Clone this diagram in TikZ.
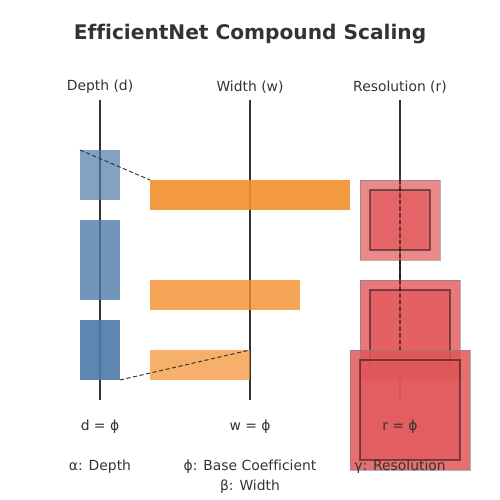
\documentclass[tikz,border=0pt]{standalone}
\usepackage{fontspec}
\setmainfont[Ligatures=NoCommon]{DejaVu Sans}
\definecolor{txt}{HTML}{333333}
\definecolor{tblue}{HTML}{4E79A7}
\definecolor{torange}{HTML}{F28E2B}
\definecolor{tred}{HTML}{E15759}
\tikzset{
  box/.style={inner sep=0pt, outer sep=0pt, anchor=north west},
  dbox/.style={box, fill=tblue, minimum width=28.8pt},
  wbar/.style={box, fill=torange, minimum height=21.6pt},
  rout/.style={box, fill=tred, draw=gray, draw opacity=0.6, line width=0.6pt},
  rin/.style={box, fill=tred, fill opacity=0.7, draw=black, draw opacity=0.45, line width=1.1pt},
  axis/.style={draw=txt, line width=1.5pt},
  link/.style={draw=txt, line width=0.7pt, dash pattern=on 3pt off 1.8pt},
  rlink/.style={draw=black, draw opacity=0.45, line width=1.1pt, dash pattern=on 3pt off 1.8pt},
  lbl/.style={text=txt, font=\fontsize{10}{12}\selectfont, inner sep=0pt},
  ttl/.style={text=txt, font=\fontsize{14.5}{17}\selectfont\bfseries, inner sep=0pt}
}
\begin{document}
\begin{tikzpicture}[x=0.72pt, y=-0.72pt]
\useasboundingbox (0,0) rectangle (500,500);
% title and axis labels
\node[ttl] (title) at (250,34) {EfficientNet Compound Scaling};
\node[lbl] (ld) at (100,87) {Depth (d)};
\node[lbl] (lw) at (250,87) {Width (w)};
\node[lbl] (lr) at (400,87) {Resolution (r)};
% axes
\coordinate (dtop) at (100,100); \coordinate (dbot) at (100,400);
\coordinate (wtop) at (250,100); \coordinate (wbot) at (250,400);
\coordinate (rtop) at (400,100); \coordinate (rbot) at (400,400);
\draw[axis] (dtop) -- (dbot);
\draw[axis] (wtop) -- (wbot);
\draw[axis] (rtop) -- (rbot);
% depth boxes
\node[dbox, fill opacity=0.7, minimum height=36pt] (d1) at (80,150) {};
\node[dbox, fill opacity=0.8, minimum height=57.6pt] (d2) at (80,220) {};
\node[dbox, fill opacity=0.9, minimum height=43.2pt] (d3) at (80,320) {};
% width bars
\node[wbar, fill opacity=0.9, minimum width=144pt] (w1) at (150,180) {};
\node[wbar, fill opacity=0.8, minimum width=108pt] (w2) at (150,280) {};
\node[wbar, fill opacity=0.7, minimum width=72pt] (w3) at (150,350) {};
% resolution squares
\node[rout, fill opacity=0.7, minimum width=57.6pt, minimum height=57.6pt] (r1) at (360,180) {};
\node[rin, minimum width=43.2pt, minimum height=43.2pt] (r1i) at (370,190) {};
\node[rout, fill opacity=0.8, minimum width=72pt, minimum height=72pt] (r2) at (360,280) {};
\node[rin, minimum width=57.6pt, minimum height=57.6pt] (r2i) at (370,290) {};
\draw[rlink] (r1.north) -- (400,350);
\node[rout, fill opacity=0.85, minimum width=86.4pt, minimum height=86.4pt] (r3) at (350,350) {};
\node[rin, minimum width=72pt, minimum height=72pt] (r3i) at (360,360) {};
% dashed links
\draw[link] (d1.north west) -- (w1.north west);
\draw[link] (d3.south east) -- (w3.north east);
% formulas and legend
\node[lbl] (fd) at (100,427) {d = ϕ};
\node[lbl] (fw) at (250,427) {w = ϕ};
\node[lbl] (fr) at (400,427) {r = ϕ};
\node[lbl] (ga) at (100,467) {α: Depth};
\node[lbl] (gp) at (250,467) {ϕ: Base Coefficient};
\node[lbl] (gb) at (250,487) {β: Width};
\node[lbl] (gg) at (400,467) {γ: Resolution};
\end{tikzpicture}
\end{document}
